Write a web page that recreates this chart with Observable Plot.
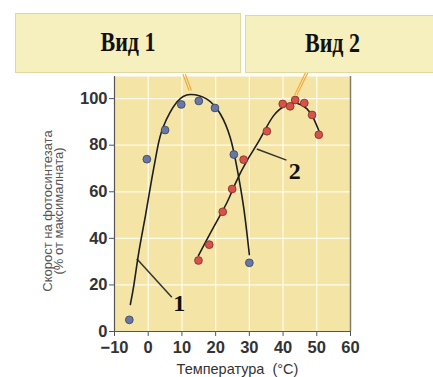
<!DOCTYPE html>
<html><head><meta charset="utf-8">
<script src="https://cdn.jsdelivr.net/npm/d3@7"></script>
<script src="https://cdn.jsdelivr.net/npm/@observablehq/plot@0.6"></script>
<style>
body{margin:0;background:#fff;}
#wrap{position:relative;width:433px;height:377px;overflow:hidden;}
.ban{position:absolute;background:#f6efbe;border:1px solid #e2d79f;box-sizing:border-box;
 font-family:"Liberation Serif","DejaVu Serif",serif;font-weight:bold;font-size:22px;color:#111;
 display:flex;align-items:center;justify-content:center;}
.ban span{display:inline-block;transform:scaleY(1.2);}
svg{position:absolute;left:0;top:0;}
</style></head>
<body><div id="wrap"></div>
<script>
const xTicks = [-10, 0, 10, 20, 30, 40, 50, 60];
const yTicks = [0, 20, 40, 60, 80, 100];
const gridXVals = [0, 10, 20, 30, 40, 50];
const gridYVals = [20, 40, 60, 80, 100];

// Species 1 (blue) observations
const sp1T = [-5.6, -0.4, 5.0, 9.8, 15.0, 19.8, 25.4, 30.0];
const sp1R = [5, 74, 86.5, 97.5, 99, 96, 76, 29.5];
// Species 2 (red) observations
const sp2T = [14.9, 18.1, 22.1, 24.9, 28.3, 35.2, 39.9, 42.1, 43.6, 46.3, 48.6, 50.6];
const sp2R = [30.5, 37.3, 51.4, 61.2, 73.8, 86, 97.7, 96.7, 99.4, 98.1, 93, 84.5];

// Fitted curves
const c1T = [-5.3, -4.2, -2.7, -0.9, 0.8, 2.6, 4.5, 8.5, 12.5, 17.4, 21.4, 24.3, 26.3, 28.3, 30.0];
const c1R = [11.6, 20.5, 34.8, 49.1, 63.4, 77.7, 88, 98.5, 101.8, 99.8, 93.4, 83.4, 70.5, 53.4, 33];
const c2T = [14.9, 19.4, 23.4, 25.8, 29.3, 33.2, 37.2, 41.2, 44.1, 47.1, 49.1, 50.6];
const c2R = [32.6, 44.8, 55.5, 63.4, 73.4, 82.7, 92.7, 97.4, 98, 95.6, 91.3, 86.3];

const banners = ["Вид 1", "Вид 2"];
const curveLabels = ["1", "2"];
const yLabel1 = "Скорост на фотосинтезата";
const yLabel2 = "(% от максималната)";
const xLabel = "Температура  (°C)";

const pts1 = sp1T.map((t, i) => ({t, r: sp1R[i]}));
const pts2 = sp2T.map((t, i) => ({t, r: sp2R[i]}));
const cur1 = c1T.map((t, i) => ({t, r: c1R[i]}));
const cur2 = c2T.map((t, i) => ({t, r: c2R[i]}));

const leaders = [
  {x1: -3.4, y1: 31.2, x2: 7.0, y2: 14.7},
  {x1: 32.2, y1: 78.4, x2: 41.0, y2: 73.6}
];
const labels = [
  {t: 9.2, r: 12.0, s: curveLabels[0]},
  {t: 43.5, r: 69.0, s: curveLabels[1]}
];
const pointers = [
  {x1: 10.3, y1: 110.5, x2: 12.1, y2: 103.5},
  {x1: 11.0, y1: 110.5, x2: 12.8, y2: 103.5},
  {x1: 46.8, y1: 111.5, x2: 43.4, y2: 101.5},
  {x1: 47.5, y1: 111.5, x2: 44.1, y2: 101.5}
];
const fmt = d => d < 0 ? "\u2212" + Math.abs(d) : String(d);
const FF = "Liberation Sans, Arial, sans-serif";

const plot = Plot.plot({
  width: 433, height: 377,
  marginLeft: 114, marginRight: 83, marginTop: 76, marginBottom: 46,
  style: {background: "transparent", overflow: "visible"},
  x: {domain: [-10, 60], label: null},
  y: {domain: [0, 109.5], label: null},
  marks: [
    Plot.frame({fill: "#f4e5a6", stroke: null}),
    Plot.gridX(gridXVals, {stroke: "#fffbe8", strokeOpacity: 1, strokeWidth: 1.3}),
    Plot.gridY(gridYVals, {stroke: "#fffbe8", strokeOpacity: 1, strokeWidth: 1.3}),
    Plot.ruleX([60], {stroke: "#857c6a", strokeWidth: 1.5}),
    Plot.ruleX([-10], {stroke: "#555", strokeWidth: 1.2}),
    Plot.ruleY([0], {stroke: "#555", strokeWidth: 1.2}),
    Plot.axisX({ticks: xTicks, tickFormat: fmt, tickSize: 5, tickPadding: 5,
      fontSize: 16.5, fontWeight: "bold", fill: "#333", stroke: "#555", label: null, fontFamily: FF}),
    Plot.axisY({ticks: yTicks, tickSize: 5, tickPadding: 2,
      fontSize: 16.5, fontWeight: "bold", fill: "#333", stroke: "#555", label: null, fontFamily: FF}),
    Plot.link(pointers, {x1: "x1", y1: "y1", x2: "x2", y2: "y2", stroke: "#f0a63a", strokeWidth: 1.1, clip: false}),
    Plot.link(leaders, {x1: "x1", y1: "y1", x2: "x2", y2: "y2", stroke: "#333", strokeWidth: 1.5}),
    Plot.line(cur1, {x: "t", y: "r", curve: "natural", stroke: "#1e1e1e", strokeWidth: 1.6}),
    Plot.line(cur2, {x: "t", y: "r", curve: "natural", stroke: "#1e1e1e", strokeWidth: 1.6}),
    Plot.dot(pts1, {x: "t", y: "r", r: 3.9, fill: "#6877a6", stroke: "#39405a", strokeWidth: 0.8}),
    Plot.dot(pts2, {x: "t", y: "r", r: 3.9, fill: "#d9524a", stroke: "#7a2e28", strokeWidth: 0.8}),
    Plot.text(labels, {x: "t", y: "r", text: "s", fontSize: 24, fontWeight: "bold", fill: "#111",
      fontFamily: "Liberation Serif, DejaVu Serif, serif"}),
    Plot.text([yLabel1], {frameAnchor: "left", dx: -67, dy: 7, rotate: -90, fontSize: 13, fill: "#555",
      fontFamily: FF, textAnchor: "middle"}),
    Plot.text([yLabel2], {frameAnchor: "left", dx: -56, dy: 7, rotate: -90, fontSize: 13, fill: "#555",
      fontFamily: FF, textAnchor: "middle"}),
    Plot.text([xLabel], {frameAnchor: "bottom", dy: 42, dx: 5, fontSize: 14.5, fill: "#333",
      fontFamily: FF})
  ]
});

const wrap = document.getElementById("wrap");
wrap.appendChild(plot);
const boxes = [
  {l: 15, t: 13, w: 226, h: 60},
  {l: 245, t: 15, w: 200, h: 58}
];
banners.forEach((b, i) => {
  const d = document.createElement("div");
  d.className = "ban";
  d.style.left = boxes[i].l + "px"; d.style.top = boxes[i].t + "px";
  d.style.width = boxes[i].w + "px"; d.style.height = boxes[i].h + "px";
  if (i === 1) { d.style.justifyContent = "flex-start"; d.style.paddingLeft = "59px"; }
  const s = document.createElement("span");
  s.textContent = b;
  d.appendChild(s);
  wrap.appendChild(d);
});
</script></body></html>
